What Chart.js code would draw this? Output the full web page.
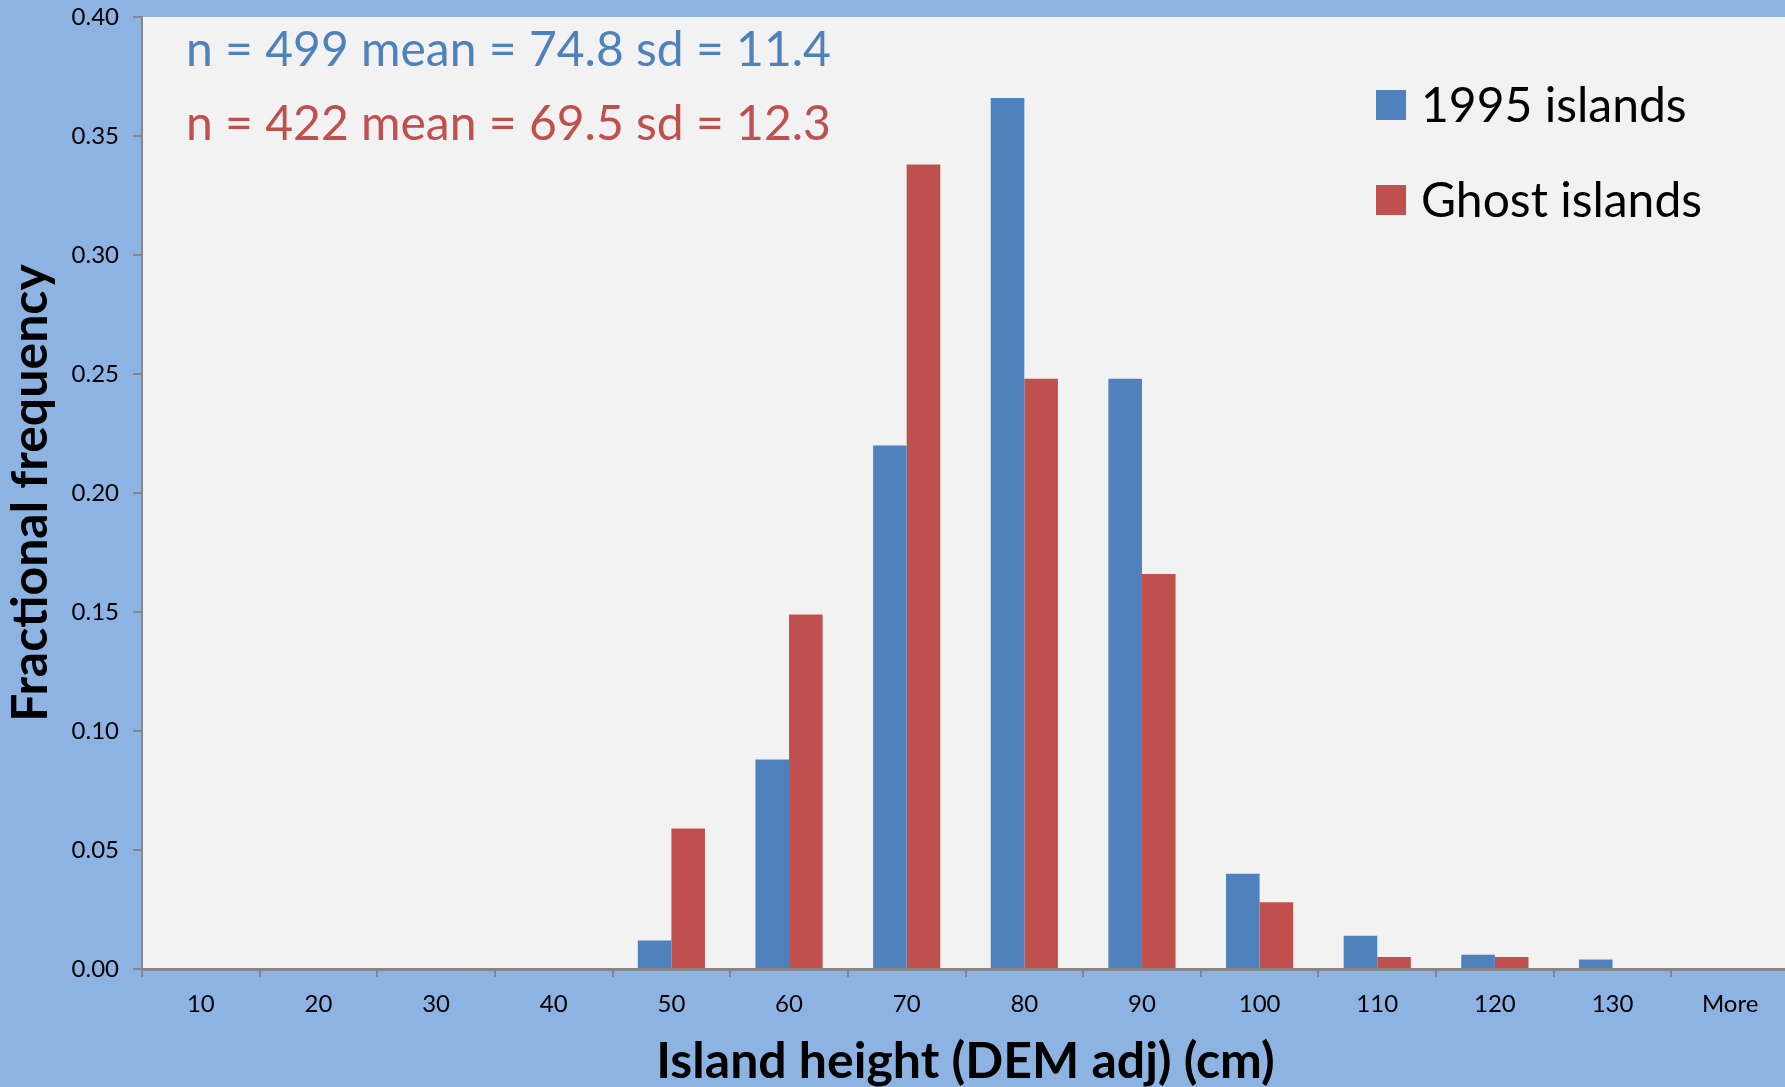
<!DOCTYPE html>
<html>
<head>
<meta charset="utf-8">
<title>Island height histogram</title>
<script src="https://cdn.jsdelivr.net/npm/chart.js@4.4.1/dist/chart.umd.min.js"></script>
<style>
  html, body { margin:0; padding:0; background:#8DB3E2; overflow:hidden; }
  #wrap { width:1789px; height:1087px; }
</style>
</head>
<body>
<div id="wrap"><canvas id="chart" width="1789" height="1087"></canvas></div>
<script>
// data
const categories = ['10','20','30','40','50','60','70','80','90','100','110','120','130','More'];
const islands1995 = [0, 0, 0, 0, 0.012, 0.088, 0.220, 0.366, 0.248, 0.040, 0.014, 0.006, 0.004, 0];
const ghostIslands = [0, 0, 0, 0, 0.059, 0.149, 0.338, 0.248, 0.166, 0.028, 0.005, 0.005, 0, 0];
const seriesNames = ['1995 islands', 'Ghost islands'];
const statN = [499, 422];
const statMean = ['74.8', '69.5'];
const statSD = ['11.4', '12.3'];

const BLUE = '#4F81BD', RED = '#C0504D', AXIS = '#868686';
const FONT = 'Lato';

// backgrounds: outer blue, plot area light grey
const bgPlugin = {
  id:'bg',
  beforeDraw(chart){
    const {ctx, chartArea:a} = chart;
    ctx.save();
    ctx.fillStyle = '#8DB3E2';
    ctx.fillRect(0,0,chart.width,chart.height);
    ctx.fillStyle = '#F2F2F2';
    ctx.fillRect(a.left, a.top, a.right-a.left, a.bottom-a.top);
    ctx.restore();
  }
};

// stats text + legend inside the plot
const textPlugin = {
  id:'txt',
  afterDraw(chart){
    const {ctx, chartArea:a} = chart;
    const colors = [BLUE, RED];
    ctx.save();
    ctx.textBaseline = 'middle';
    ctx.font = `48px ${FONT}`;
    for(let i=0;i<statN.length;i++){
      ctx.fillStyle = colors[i];
      ctx.fillText(`n = ${statN[i]} mean = ${statMean[i]} sd = ${statSD[i]}`, a.left+44, a.top+34+i*74);
    }
    // legend
    chart.data.datasets.forEach((ds,i)=>{
      const y = a.top + 88 + i*95;
      ctx.fillStyle = ds.backgroundColor;
      ctx.fillRect(1376, y-15, 30, 30);
      ctx.fillStyle = '#000';
      ctx.fillText(ds.label, 1421, y+2);
    });
    ctx.restore();
  }
};

new Chart(document.getElementById('chart'), {
  type:'bar',
  data:{
    labels: categories,
    datasets:[
      { label: seriesNames[0], data: islands1995, backgroundColor: BLUE, categoryPercentage:0.571, barPercentage:1.0 },
      { label: seriesNames[1], data: ghostIslands, backgroundColor: RED, categoryPercentage:0.571, barPercentage:1.0 }
    ]
  },
  options:{
    responsive:false,
    animation:false,
    devicePixelRatio:1,
    layout:{ padding:{ top:17, right:0, left:0, bottom:0 } },
    plugins:{ legend:{ display:false }, tooltip:{ enabled:false } },
    scales:{
      x:{
        grid:{ display:true, offset:true, drawOnChartArea:false, drawTicks:true, tickLength:8, color:AXIS, lineWidth:2 },
        border:{ display:true, color:AXIS, width:3 },
        ticks:{ color:'#000', font:{ family:FONT, size:24 }, padding:13, maxRotation:0 },
        title:{ display:true, text:'Island height (DEM adj) (cm)', color:'#000', font:{ family:FONT, size:50, weight:'bold', lineHeight:1.0 }, padding:{ top:0, bottom:0 } },
        afterFit(s){ s.height = 118; s.paddingLeft = 0; s.paddingRight = 0; }
      },
      y:{
        min:0, max:0.4,
        grid:{ display:true, drawOnChartArea:false, drawTicks:true, tickLength:9, color:AXIS, lineWidth:2 },
        border:{ display:true, color:AXIS, width:2 },
        ticks:{ stepSize:0.05, color:'#000', font:{ family:FONT, size:24 }, padding:14, callback:v=>v.toFixed(2) },
        title:{ display:true, text:'Fractional frequency', color:'#000', font:{ family:FONT, size:50, weight:'bold', lineHeight:1.0 }, padding:{ top:6, bottom:0 } },
        afterFit(s){ s.width = 142; s.paddingTop = 0; s.paddingBottom = 0; }
      }
    }
  },
  plugins:[bgPlugin, textPlugin]
});
</script>
</body>
</html>
